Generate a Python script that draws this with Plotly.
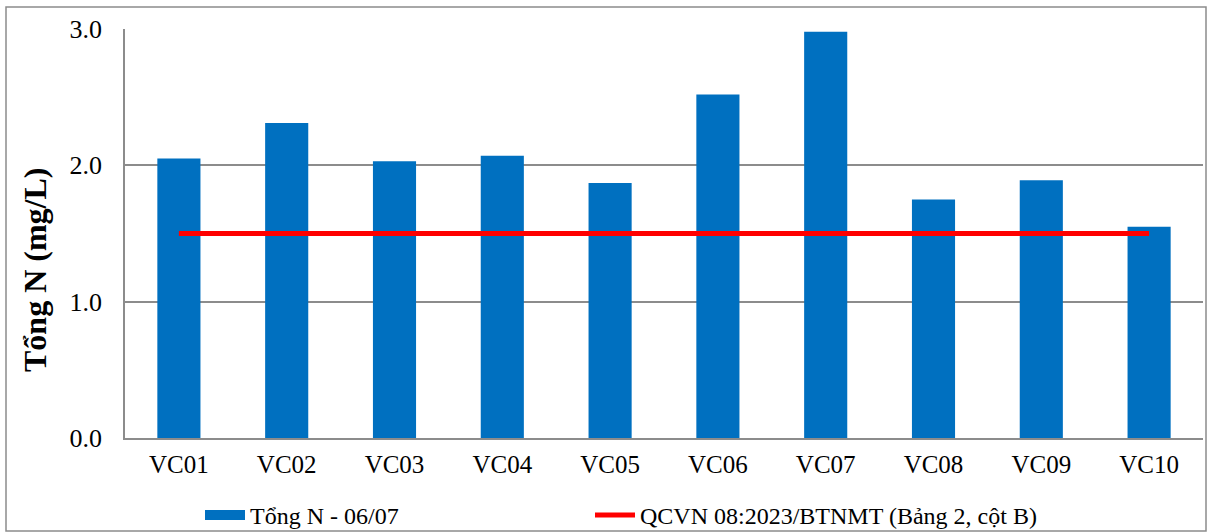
import plotly.graph_objects as go

categories = ["VC01", "VC02", "VC03", "VC04", "VC05", "VC06", "VC07", "VC08", "VC09", "VC10"]
tong_n = [2.05, 2.31, 2.03, 2.07, 1.87, 2.52, 2.98, 1.75, 1.89, 1.55]
qcvn = [1.5] * len(categories)
y_ticks = [0.0, 1.0, 2.0, 3.0]
y_tick_labels = ["0.0", "1.0", "2.0", "3.0"]
y_title = "Tổng N (mg/L)"

W, H = 1208, 532
L, R, T, B = 125, 5, 29, 94
pw, ph = W - L - R, H - T - B

FONT = "Liberation Serif, Times New Roman, serif"
BLUE = "#0070C0"

fig = go.Figure()
fig.add_trace(go.Bar(x=categories, y=tong_n, marker=dict(color=BLUE, line=dict(width=0)),
                     name="Tổng N - 06/07", showlegend=False))
fig.add_trace(go.Scatter(x=[None], y=[None], mode="lines", line=dict(color=BLUE, width=12),
                         name="Tổng N - 06/07", showlegend=True, legend="legend"))
fig.add_trace(go.Scatter(x=categories, y=qcvn, mode="lines", line=dict(color="#FF0000", width=5),
                         name="QCVN 08:2023/BTNMT (Bảng 2, cột B)", legend="legend2"))

def px_x(p):
    return (p - L) / pw

def px_y(p):
    return 1 - (p - T) / ph

fig.add_shape(type="rect", xref="paper", yref="paper",
              x0=px_x(6), x1=px_x(1206), y0=px_y(531), y1=px_y(7),
              line=dict(color="#8c8c8c", width=1.5), fillcolor="rgba(0,0,0,0)", layer="below")

fig.add_annotation(xref="paper", yref="paper", x=px_x(35), y=px_y(270),
                   text="<b>" + y_title + "</b>", textangle=-90, showarrow=False,
                   xanchor="center", yanchor="middle",
                   font=dict(family=FONT, size=32, color="black"))

legend_common = dict(orientation="h", xanchor="left", yanchor="top",
                     font=dict(family=FONT, size=24, color="black"),
                     bgcolor="rgba(0,0,0,0)", itemwidth=40)

fig.update_layout(
    width=W, height=H,
    margin=dict(l=L, r=R, t=T, b=B, pad=0, autoexpand=False),
    paper_bgcolor="white", plot_bgcolor="white",
    font=dict(family=FONT, size=26, color="black"),
    bargap=0.6,
    showlegend=True,
    legend=dict(x=px_x(200), y=px_y(493), **legend_common),
    legend2=dict(x=px_x(590), y=px_y(493), **legend_common),
    xaxis=dict(showgrid=False, showline=True, linecolor="#8c8c8c", linewidth=1.5,
               ticks="", tickfont=dict(family=FONT, size=25), ticklabelstandoff=3),
    yaxis=dict(range=[0, 3.0], tickvals=y_ticks, ticktext=y_tick_labels,
               showgrid=True, gridcolor="#8c8c8c", gridwidth=1.5,
               showline=True, linecolor="#8c8c8c", linewidth=1.5, ticks="",
               tickfont=dict(family=FONT, size=26), ticklabelstandoff=16,
               zeroline=False),
)

fig.write_html("out.html", config={"displayModeBar": False},
               post_script="document.body.style.margin='0';document.body.style.overflow='hidden';")
